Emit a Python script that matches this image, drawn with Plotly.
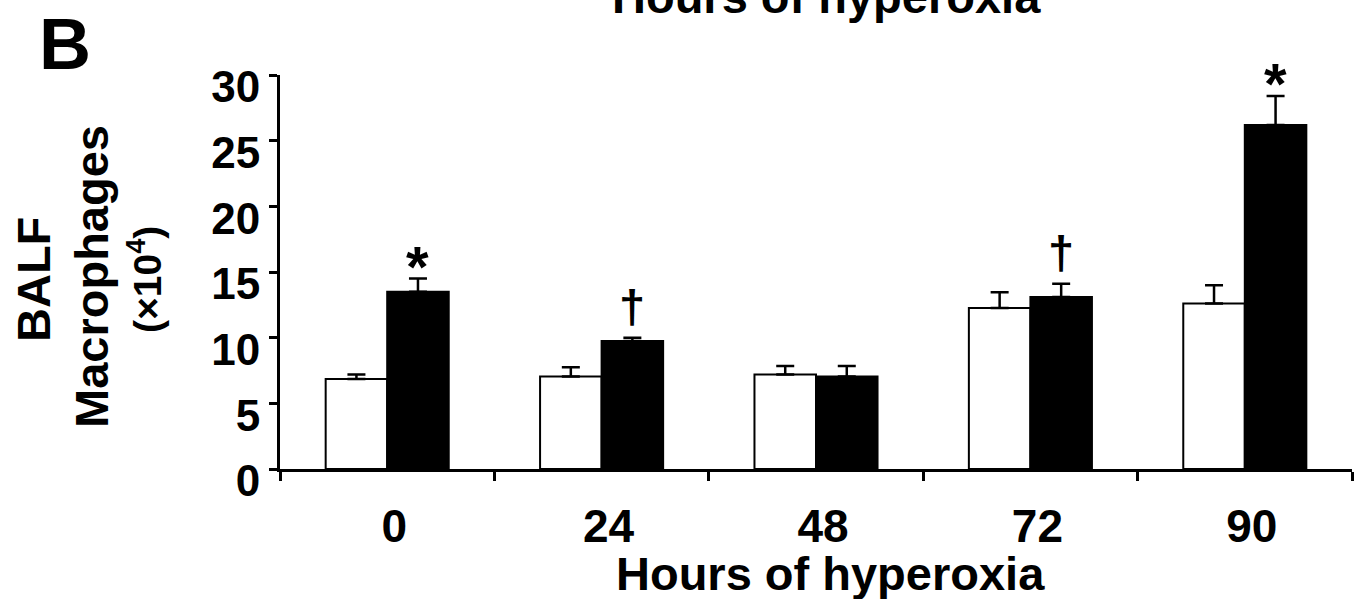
import plotly.graph_objects as go

# Hours of hyperoxia exposure (category labels)
hours = ["0", "24", "48", "72", "90"]

# BALF macrophage counts (x10^4), mean and upper error
open_means = [6.85, 7.05, 7.2, 12.25, 12.6]
open_err = [0.35, 0.7, 0.65, 1.2, 1.4]
filled_means = [13.5, 9.75, 7.05, 13.1, 26.2]
filled_err = [1.0, 0.25, 0.8, 1.0, 2.2]

# significance markers above the filled bars
marks = ["*", "\u2020", "", "\u2020", "*"]

FONT = "Liberation Sans, Arial, Helvetica, sans-serif"
BARGAP = 0.426

W, H = 1357, 599
L, R, T, B = 280, 5, 75, 130
pw, ph = W - L - R, H - T - B


def px(xp):
    return (xp - L) / pw


def py(yp):
    return (H - B - yp) / ph


fig = go.Figure()
fig.add_trace(go.Bar(
    x=hours, y=open_means, name="open",
    marker=dict(color="white", line=dict(color="black", width=2)),
    error_y=dict(type="data", array=open_err, arrayminus=[0] * len(open_err),
                 symmetric=False, color="black", thickness=2.5, width=9),
))
fig.add_trace(go.Bar(
    x=hours, y=filled_means, name="filled",
    marker=dict(color="black", line=dict(color="black", width=2)),
    error_y=dict(type="data", array=filled_err, arrayminus=[0] * len(filled_err),
                 symmetric=False, color="black", thickness=2.5, width=9),
))

ann = []
# offset of the filled bar centre inside each group (category units)
off = (1 - BARGAP) / 4
for i, m in enumerate(marks):
    if not m:
        continue
    is_star = m == "*"
    ann.append(dict(
        x=i + off, y=filled_means[i] + filled_err[i], xref="x", yref="y",
        text="<b>%s</b>" % m, showarrow=False, xanchor="center", yanchor="bottom",
        font=dict(family=FONT, size=58 if is_star else 47, color="black"),
        yshift=-22 if is_star else 3,
    ))


def add_text(text, xp, yp, size, angle=0):
    ann.append(dict(
        x=px(xp), y=py(yp), xref="paper", yref="paper", text=text, showarrow=False,
        xanchor="center", yanchor="middle", textangle=angle,
        font=dict(family=FONT, size=size, color="black"),
    ))


# panel letter and axis titles
add_text("<b>B</b>", 65, 44, 72)
add_text("<b>Hours of hyperoxia</b>", 830, 573, 47)
add_text("<b>Hours of hyperoxia</b>", 826, -3, 47)
add_text("<b>BALF</b>", 33, 280, 47, -90)
add_text("<b>Macrophages</b>", 91, 277, 47, -90)
add_text("<b>(\u00d710<sup>4</sup>)</b>", 144, 280, 39, -90)

fig.update_layout(
    annotations=ann,
    width=W, height=H,
    margin=dict(l=L, r=R, t=T, b=B),
    paper_bgcolor="white", plot_bgcolor="white",
    barmode="group", bargap=BARGAP, bargroupgap=0,
    showlegend=False,
    font=dict(family=FONT, color="black"),
    xaxis=dict(
        type="category", tickson="boundaries", ticks="outside", ticklen=9,
        tickwidth=3, tickcolor="black", showline=True, linecolor="black",
        linewidth=3, showgrid=False, zeroline=False,
        tickfont=dict(family=FONT, size=46, color="black", weight="bold"),
        ticklabelstandoff=15, ticklabelshift=7,
    ),
    yaxis=dict(
        range=[0, 30], tickvals=[0, 5, 10, 15, 20, 25, 30], ticks="outside",
        ticklen=8, tickwidth=3, tickcolor="black", showline=True,
        linecolor="black", linewidth=3, showgrid=False, zeroline=False,
        tickfont=dict(family=FONT, size=44, color="black", weight="bold"),
        ticklabelstandoff=0, ticklabelshift=12,
    ),
)

fig.write_html("out.html")
